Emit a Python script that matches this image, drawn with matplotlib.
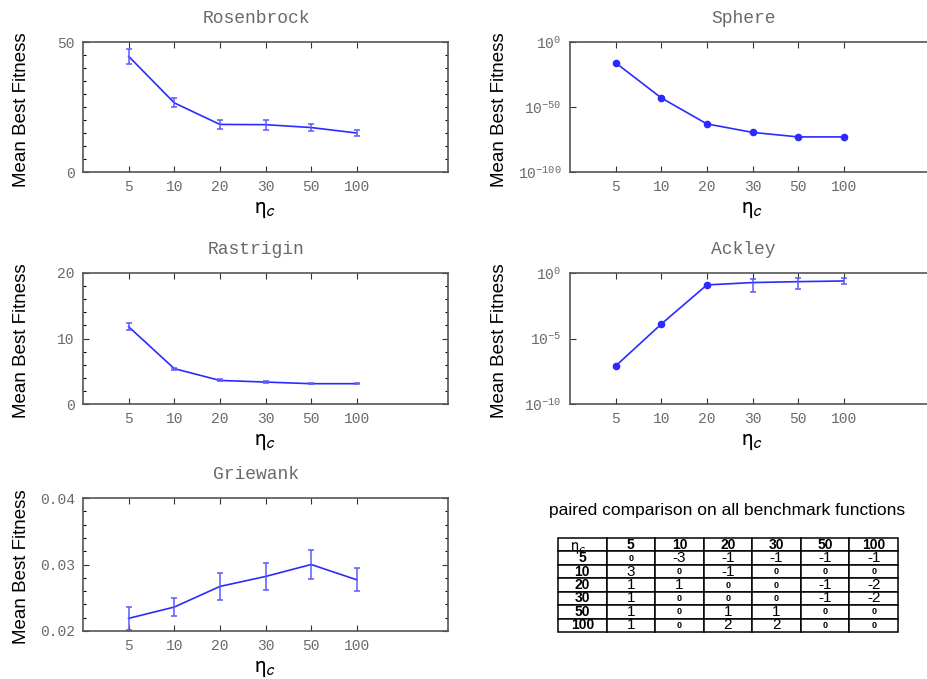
import matplotlib
matplotlib.use("Agg")
import matplotlib.pyplot as plt
from matplotlib.ticker import FixedLocator, MultipleLocator, NullLocator

# ---------------------------------------------------------
# Dados
# ---------------------------------------------------------
ETA_LABELS = ["5", "10", "20", "30", "50", "100"]

ROSEN_MEAN = [44.5, 26.6, 18.3, 18.2, 17.1, 15.0]
ROSEN_ERR = [3.0, 1.7, 1.6, 1.9, 1.5, 1.2]

SPHERE_MEAN = [1e-16, 1e-43, 1e-63, 3e-70, 1e-73, 1e-73]

RASTR_MEAN = [11.8, 5.4, 3.6, 3.35, 3.1, 3.1]
RASTR_ERR = [0.5, 0.15, 0.15, 0.15, 0.12, 0.12]

ACKLEY_MEAN = [10 ** -7.1, 10 ** -3.9, 10 ** -0.91, 10 ** -0.73, 10 ** -0.66, 10 ** -0.61]
ACKLEY_LOW = [10 ** -7.1, 10 ** -3.9, 10 ** -0.91, 10 ** -1.45, 10 ** -1.19, 10 ** -0.86]
ACKLEY_HIGH = [10 ** -7.1, 10 ** -3.9, 10 ** -0.91, 10 ** -0.48, 10 ** -0.38, 10 ** -0.38]

GRIEW_MEAN = [0.0219, 0.0236, 0.0267, 0.0282, 0.0300, 0.0277]
GRIEW_ERR = [0.0017, 0.0014, 0.0020, 0.0021, 0.0022, 0.0017]

TABLE_HEADER = ["5", "10", "20", "30", "50", "100"]
TABLE_ROWS = ["5", "10", "20", "30", "50", "100"]
TABLE_VALUES = [
    [0, -3, -1, -1, -1, -1],
    [3, 0, -1, 0, 0, 0],
    [1, 1, 0, 0, -1, -2],
    [1, 0, 0, 0, -1, -2],
    [1, 0, 1, 1, 0, 0],
    [1, 0, 2, 2, 0, 0],
]

# ---------------------------------------------------------
# Estilo
# ---------------------------------------------------------
LINE_COLOR = "#2b2bff"
ERR_COLOR = "#5a5aff"
GRAY = "#6a6a6a"
MONO = "Liberation Mono"
SANS = "Liberation Sans"

plt.rcParams["mathtext.fontset"] = "custom"
plt.rcParams["mathtext.rm"] = MONO
plt.rcParams["mathtext.it"] = MONO

W, H = 927, 679
ETA_LABEL = r"$\mathrm{\eta}_\mathsf{c}$"


def px_axes(fig, left, top, right, bottom):
    return fig.add_axes([left / W, 1 - bottom / H, (right - left) / W, (bottom - top) / H])


def style_axes(ax, title, ylabel_x):
    x = list(range(1, len(ETA_LABELS) + 1))
    ax.set_xlim(0, 8)
    ax.set_xticks(x)
    ax.set_xticklabels(ETA_LABELS, family=MONO, color=GRAY, fontsize=10.5)
    ax.tick_params(axis="both", direction="in", top=True, right=True, length=4,
                   width=0.8, color="#333333", pad=6)
    ax.tick_params(axis="y", which="minor", direction="in", right=True, length=2.5, width=0.8)
    for s in ax.spines.values():
        s.set_color("#555555")
        s.set_linewidth(1.2)
    ax.set_title(title, family=MONO, color=GRAY, fontsize=13, pad=14, x=0.475)
    ax.set_ylabel("Mean Best Fitness", family=SANS, fontsize=13.5)
    ax.yaxis.set_label_coords(ylabel_x, 0.48)
    ax.set_xlabel(ETA_LABEL, fontsize=17, math_fontfamily="stixsans", labelpad=1)
    for lab in ax.get_yticklabels():
        lab.set_family(MONO)
        lab.set_color(GRAY)
        lab.set_fontsize(10.5)


def plot_linear(ax, mean, err, title, ylim, major, minor, fmt):
    x = list(range(1, len(mean) + 1))
    ax.plot(x, mean, color=LINE_COLOR, lw=1.2)
    ax.errorbar(x, mean, yerr=err, fmt="none", ecolor=ERR_COLOR, elinewidth=1.1,
                capsize=2.5, capthick=1.1)
    ax.set_ylim(*ylim)
    ax.yaxis.set_major_locator(FixedLocator(major))
    ax.yaxis.set_minor_locator(MultipleLocator(minor))
    ax.set_yticklabels([fmt.format(v) for v in major])
    style_axes(ax, title, -0.145)


def plot_log(ax, mean, title, ylim, major, labels, low=None, high=None, n_dots=6):
    x = list(range(1, len(mean) + 1))
    ax.set_yscale("log")
    ax.plot(x, mean, color=LINE_COLOR, lw=1.2)
    ax.plot(x[:n_dots], mean[:n_dots], "o", color=LINE_COLOR, ms=4.5)
    if low is not None:
        xs = x[n_dots:]
        m = mean[n_dots:]
        lo = [mv - lv for mv, lv in zip(m, low[n_dots:])]
        hi = [hv - mv for mv, hv in zip(m, high[n_dots:])]
        ax.errorbar(xs, m, yerr=[lo, hi], fmt="none", ecolor=ERR_COLOR, elinewidth=1.1,
                    capsize=2.5, capthick=1.1)
    ax.set_ylim(*ylim)
    ax.yaxis.set_major_locator(FixedLocator(major))
    ax.yaxis.set_minor_locator(NullLocator())
    ax.set_yticklabels(labels)
    style_axes(ax, title, -0.17)


def draw_table(fig):
    fig.text(727 / W, 1 - 510 / H, "paired comparison on all benchmark functions",
             family=SANS, fontsize=12.5, ha="center", va="center")
    ax = px_axes(fig, 558, 538, 898, 632)
    ax.axis("off")
    cells = [[""] + TABLE_HEADER]
    for lab, row in zip(TABLE_ROWS, TABLE_VALUES):
        cells.append([lab] + [str(v) for v in row])
    tab = ax.table(cellText=cells, cellLoc="center", bbox=[0, 0, 1, 1])
    tab.auto_set_font_size(False)
    for (r, c), cell in tab.get_celld().items():
        cell.set_linewidth(1.1)
        cell.set_edgecolor("black")
        txt = cell.get_text()
        txt.set_family(SANS)
        if r == 0 or c == 0:
            txt.set_fontsize(10)
            txt.set_fontweight("bold")
        elif TABLE_VALUES[r - 1][c - 1] == 0:
            txt.set_fontsize(6.5)
            txt.set_fontweight("bold")
        else:
            txt.set_fontsize(11)
    ax.text(0.035, 1.0, ETA_LABEL, transform=ax.transAxes, fontsize=12,
            math_fontfamily="stixsans", va="top", ha="left")


def main():
    fig = plt.figure(figsize=(W / 100, H / 100), dpi=100)

    ax = px_axes(fig, 83, 42, 448, 172)
    plot_linear(ax, ROSEN_MEAN, ROSEN_ERR, "Rosenbrock", (0, 50), [0, 50], 5, "{:g}")

    ax = px_axes(fig, 570, 42, 935, 172)
    plot_log(ax, SPHERE_MEAN, "Sphere", (1e-100, 1), [1e-100, 1e-50, 1],
             [r"$10^{-100}$", r"$10^{-50}$", r"$10^{0}$"])

    ax = px_axes(fig, 83, 273, 448, 404)
    plot_linear(ax, RASTR_MEAN, RASTR_ERR, "Rastrigin", (0, 20), [0, 10, 20], 2, "{:g}")

    ax = px_axes(fig, 570, 273, 935, 404)
    plot_log(ax, ACKLEY_MEAN, "Ackley", (1e-10, 1), [1e-10, 1e-5, 1],
             [r"$10^{-10}$", r"$10^{-5}$", r"$10^{0}$"],
             low=ACKLEY_LOW, high=ACKLEY_HIGH, n_dots=3)

    ax = px_axes(fig, 83, 498, 448, 631)
    plot_linear(ax, GRIEW_MEAN, GRIEW_ERR, "Griewank", (0.02, 0.04),
                [0.02, 0.03, 0.04], 0.002, "{:.2f}")

    draw_table(fig)

    fig.savefig("out.png", dpi=100)
    plt.close(fig)


if __name__ == "__main__":
    main()
